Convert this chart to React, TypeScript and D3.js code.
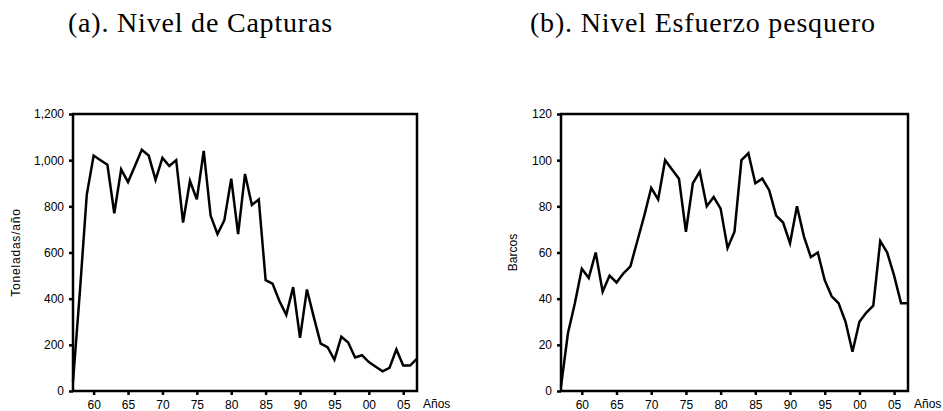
import React, { useRef, useEffect } from "react";
import * as d3 from "d3";

// años 1957 - 2007
const years = d3.range(1957, 2008);

// (a) capturas, toneladas/año
const capturas = [
  40, 430, 850, 1020, 1000, 980, 770, 960, 905, 975,
  1045, 1020, 915, 1010, 975, 1000, 730, 910, 830, 1040,
  760, 680, 740, 920, 680, 940, 806, 830, 480, 465,
  390, 330, 450, 230, 440, 320, 205, 190, 135, 235,
  210, 145, 155, 125, 105, 85, 100, 180, 110, 110,
  140,
];

// (b) esfuerzo pesquero, barcos
const barcos = [
  2, 25, 38, 53, 49, 60, 43, 50, 47, 51,
  54, 65, 76, 88, 83, 100, 96, 92, 69, 90,
  95, 80, 84, 79, 62, 69, 100, 103, 90, 92,
  87, 76, 73, 64, 80, 67, 58, 60, 48, 41,
  38, 30, 17, 30, 34, 37, 65, 60, 50, 38,
  38,
];

const xTicks = [1960, 1965, 1970, 1975, 1980, 1985, 1990, 1995, 2000, 2005];
const capturasTicks = [0, 200, 400, 600, 800, 1000, 1200];
const barcosTicks = [0, 20, 40, 60, 80, 100, 120];

const titles = ["(a). Nivel de Capturas", "(b). Nivel Esfuerzo pesquero"];
const yTitles = ["Toneladas/año", "Barcos"];

const SANS = "'Liberation Sans', Arial, sans-serif";
const SERIF = "'Liberation Serif', 'Times New Roman', serif";

type Panel = {
  left: number;
  right: number;
  values: number[];
  ticks: number[];
  yMax: number;
  title: string;
  titleX: number;
  yTitle: string;
  yTitleX: number;
  yTitleSpacing: number;
};

const TOP = 114;
const BOTTOM = 391;

const panels: Panel[] = [
  {
    left: 73,
    right: 417,
    values: capturas,
    ticks: capturasTicks,
    yMax: 1200,
    title: titles[0],
    titleX: 68,
    yTitle: yTitles[0],
    yTitleX: 16,
    yTitleSpacing: 0.8,
  },
  {
    left: 561,
    right: 908,
    values: barcos,
    ticks: barcosTicks,
    yMax: 120,
    title: titles[1],
    titleX: 530,
    yTitle: yTitles[1],
    yTitleX: 513,
    yTitleSpacing: 0,
  },
];

export default function App() {
  const svgRef = useRef<SVGSVGElement>(null);

  useEffect(() => {
    if (!svgRef.current) return;
    const svg = d3.select(svgRef.current);
    svg.selectAll("*").remove();

    panels.forEach((p) => {
      const x = d3.scaleLinear().domain([1957, 2007]).range([p.left, p.right]);
      const y = d3.scaleLinear().domain([0, p.yMax]).range([BOTTOM, TOP]);

      // título
      svg
        .append("text")
        .attr("x", p.titleX)
        .attr("y", 32)
        .attr("font-family", SERIF)
        .attr("font-size", 28)
        .attr("letter-spacing", 0.8)
        .text(p.title);

      // eje Y
      const yAxis = d3
        .axisLeft(y)
        .tickValues(p.ticks)
        .tickSize(4)
        .tickPadding(5)
        .tickFormat((d) => d3.format(",")(d as number));
      const gy = svg
        .append("g")
        .attr("transform", `translate(${p.left},0)`)
        .call(yAxis);
      gy.select(".domain").remove();
      gy.selectAll(".tick line").attr("stroke-width", 2.5).attr("stroke", "#000");
      gy.selectAll(".tick text")
        .attr("font-family", SANS)
        .attr("font-size", 12)
        .attr("fill", "#000");

      // eje X
      const xAxis = d3
        .axisBottom(x)
        .tickValues(xTicks)
        .tickSize(4)
        .tickPadding(5)
        .tickFormat((d) => String((d as number) % 100).padStart(2, "0"));
      const gx = svg
        .append("g")
        .attr("transform", `translate(0,${BOTTOM})`)
        .call(xAxis);
      gx.select(".domain").remove();
      gx.selectAll(".tick line").attr("stroke-width", 2.5).attr("stroke", "#000");
      gx.selectAll(".tick text")
        .attr("font-family", SANS)
        .attr("font-size", 12)
        .attr("fill", "#000");

      svg
        .append("text")
        .attr("x", p.right + 6)
        .attr("y", 408)
        .attr("font-family", SANS)
        .attr("font-size", 12)
        .text("Años");

      // título eje Y
      svg
        .append("text")
        .attr("transform", `translate(${p.yTitleX},${(TOP + BOTTOM) / 2}) rotate(-90)`)
        .attr("text-anchor", "middle")
        .attr("dy", "0.35em")
        .attr("font-family", SANS)
        .attr("font-size", 12)
        .attr("letter-spacing", p.yTitleSpacing)
        .text(p.yTitle);

      // serie
      const line = d3
        .line<number>()
        .x((_, i) => x(years[i]))
        .y((d) => y(d));
      svg
        .append("path")
        .datum(p.values)
        .attr("fill", "none")
        .attr("stroke", "#000")
        .attr("stroke-width", 2.5)
        .attr("d", line);

      // marco
      svg
        .append("rect")
        .attr("x", p.left)
        .attr("y", TOP)
        .attr("width", p.right - p.left)
        .attr("height", BOTTOM - TOP)
        .attr("fill", "none")
        .attr("stroke", "#000")
        .attr("stroke-width", 2.5);
    });
  }, []);

  return (
    <svg
      ref={svgRef}
      width={943}
      height={411}
      style={{ position: "absolute", left: 0, top: 0, background: "#fff" }}
    />
  );
}
